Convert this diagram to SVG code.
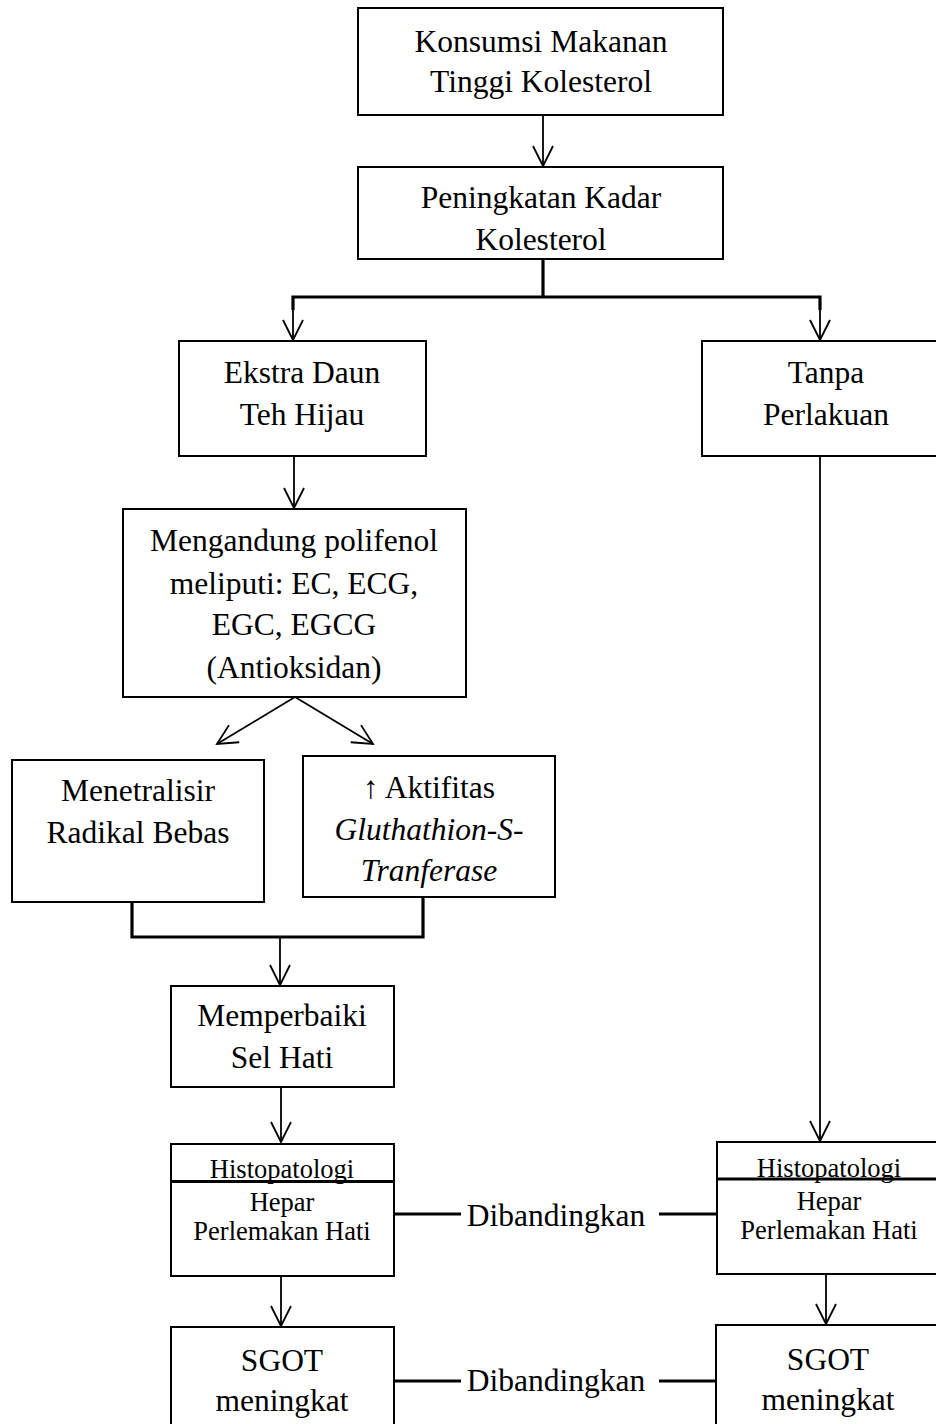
<svg xmlns="http://www.w3.org/2000/svg" width="936" height="1424" viewBox="0 0 936 1424">
<style>
.box{fill:#fff;stroke:#000;stroke-width:2}
.t{font-family:"Liberation Serif","Times New Roman",serif;font-size:31.5px;fill:#000;text-anchor:middle}
.s{font-family:"Liberation Serif","Times New Roman",serif;font-size:26.5px;fill:#000;text-anchor:middle}
.thin{fill:none;stroke:#000;stroke-width:1.8}
.thick{fill:none;stroke:#000;stroke-width:3.2}
</style>
<defs>
<marker id="ah" markerUnits="userSpaceOnUse" markerWidth="24" markerHeight="24" viewBox="0 0 24 24" refX="21" refY="11" orient="auto">
<path d="M1,1 L21,11 L1,21" fill="none" stroke="#000" stroke-width="1.8"/>
</marker>
</defs>
<rect width="936" height="1424" fill="#fff"/>
<g id="connectors">
<line class="thin" x1="543" y1="115" x2="543" y2="166" marker-end="url(#ah)"/>
<line class="thick" x1="543" y1="259" x2="543" y2="297"/>
<polyline class="thick" points="293,310 293,297 820,297 820,310"/>
<line class="thin" x1="293" y1="297" x2="293" y2="340" marker-end="url(#ah)"/>
<line class="thin" x1="820" y1="297" x2="820" y2="340" marker-end="url(#ah)"/>
<line class="thin" x1="294" y1="456" x2="294" y2="508" marker-end="url(#ah)"/>
<line class="thin" x1="820" y1="456" x2="820" y2="1141" marker-end="url(#ah)"/>
<line class="thin" x1="295" y1="697" x2="217" y2="744" marker-end="url(#ah)"/>
<line class="thin" x1="295" y1="697" x2="373" y2="744" marker-end="url(#ah)"/>
<polyline class="thick" points="132,903 132,937 423,937 423,897"/>
<line class="thin" x1="280" y1="937" x2="280" y2="985" marker-end="url(#ah)"/>
<line class="thin" x1="281" y1="1087" x2="281" y2="1142" marker-end="url(#ah)"/>
<line class="thin" x1="281" y1="1276" x2="281" y2="1326" marker-end="url(#ah)"/>
<line class="thin" x1="826" y1="1274" x2="826" y2="1324" marker-end="url(#ah)"/>
<line class="thick" x1="394" y1="1214" x2="461" y2="1214"/>
<line class="thick" x1="659" y1="1214" x2="717" y2="1214"/>
<line class="thick" x1="394" y1="1381" x2="461" y2="1381"/>
<line class="thick" x1="659" y1="1381" x2="716" y2="1381"/>
<text class="t" x="556" y="1226">Dibandingkan</text>
<text class="t" x="556" y="1391">Dibandingkan</text>
</g>
<g id="n1">
<rect class="box" x="358" y="8" width="365" height="107"/>
<text class="t" x="541" y="52">Konsumsi Makanan</text>
<text class="t" x="541" y="92">Tinggi Kolesterol</text>
</g>
<g id="n2">
<rect class="box" x="358" y="167" width="365" height="92"/>
<text class="t" x="541" y="208">Peningkatan Kadar</text>
<text class="t" x="541" y="250">Kolesterol</text>
</g>
<g id="n3">
<rect class="box" x="179" y="341" width="247" height="115"/>
<text class="t" x="302" y="383">Ekstra Daun</text>
<text class="t" x="302" y="425">Teh Hijau</text>
</g>
<g id="n4">
<rect class="box" x="702" y="341" width="250" height="115"/>
<text class="t" x="826" y="383">Tanpa</text>
<text class="t" x="826" y="425">Perlakuan</text>
</g>
<g id="n5">
<rect class="box" x="123" y="509" width="343" height="188"/>
<text class="t" x="294" y="551">Mengandung polifenol</text>
<text class="t" x="294" y="594">meliputi: EC, ECG,</text>
<text class="t" x="294" y="635">EGC, EGCG</text>
<text class="t" x="294" y="678">(Antioksidan)</text>
</g>
<g id="n6">
<rect class="box" x="12" y="760" width="252" height="142"/>
<text class="t" x="138" y="801">Menetralisir</text>
<text class="t" x="138" y="843">Radikal Bebas</text>
</g>
<g id="n7">
<rect class="box" x="303" y="756" width="252" height="141"/>
<text class="t" x="429" y="798">↑ Aktifitas</text>
<text class="t" x="429" y="840" font-style="italic">Gluthathion-S-</text>
<text class="t" x="429" y="881" font-style="italic">Tranferase</text>
</g>
<g id="n8">
<rect class="box" x="171" y="986" width="223" height="101"/>
<text class="t" x="282" y="1026">Memperbaiki</text>
<text class="t" x="282" y="1068">Sel Hati</text>
</g>
<g id="n9">
<rect class="box" x="171" y="1144" width="223" height="132"/>
<text class="s" x="282" y="1178">Histopatologi</text>
<line class="thick" x1="171" y1="1181.5" x2="394" y2="1181.5"/>
<text class="s" x="282" y="1211">Hepar</text>
<text class="s" x="282" y="1240">Perlemakan Hati</text>
</g>
<g id="n10">
<rect class="box" x="717" y="1142" width="224" height="132"/>
<text class="s" x="829" y="1177">Histopatologi</text>
<line class="thick" x1="717" y1="1179" x2="941" y2="1179"/>
<text class="s" x="829" y="1210">Hepar</text>
<text class="s" x="829" y="1239">Perlemakan Hati</text>
</g>
<g id="n11">
<rect class="box" x="171" y="1327" width="223" height="110"/>
<text class="t" x="282" y="1371">SGOT</text>
<text class="t" x="282" y="1411">meningkat</text>
</g>
<g id="n12">
<rect class="box" x="716" y="1325" width="225" height="110"/>
<text class="t" x="828" y="1370">SGOT</text>
<text class="t" x="828" y="1410">meningkat</text>
</g>
</svg>
